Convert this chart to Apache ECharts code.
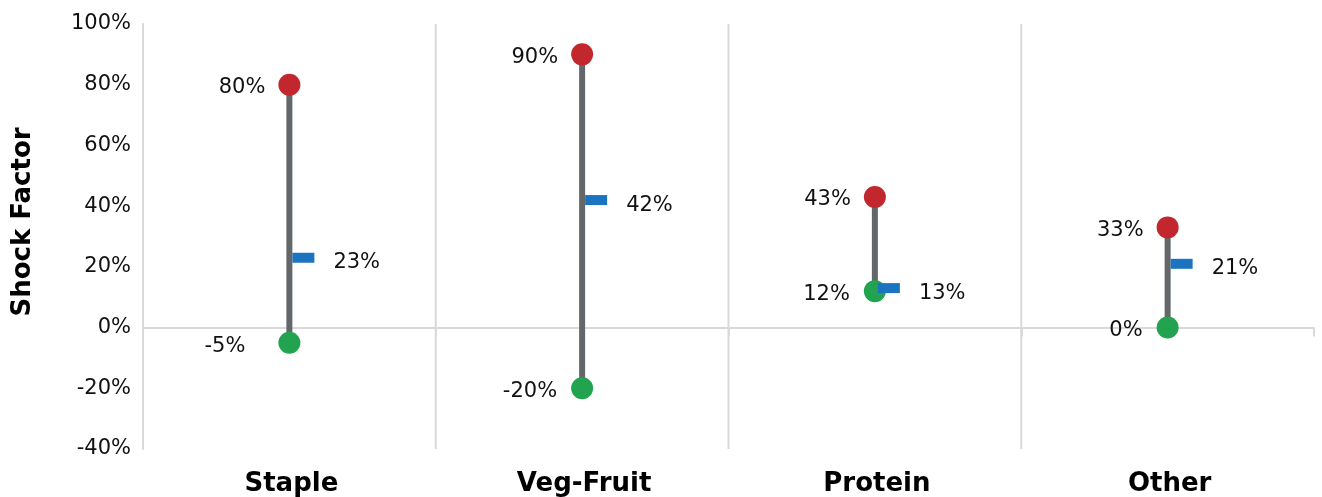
<!DOCTYPE html>
<html>
<head>
<meta charset="utf-8">
<script src="https://cdn.jsdelivr.net/npm/echarts@6/dist/echarts.min.js"></script>
<style>
html,body{margin:0;padding:0;background:#fff;}
#chart{width:1322px;height:497px;}
</style>
</head>
<body>
<div id="chart"></div>
<script>
var categories = ['Staple', 'Veg-Fruit', 'Protein', 'Other'];
var maxValues = [0.80, 0.90, 0.43, 0.33];
var minValues = [-0.05, -0.20, 0.12, 0.00];
var midValues = [0.23, 0.42, 0.13, 0.21];
var yTicks = [-0.4, -0.2, 0, 0.2, 0.4, 0.6, 0.8, 1.0];

var FONT = 'DejaVu Sans';
var TXT = '#111';
function pct(v) { return Math.round(v * 100) + '%'; }

var chart = echarts.init(document.getElementById('chart'), null, {renderer: 'canvas'});

var stemData = categories.map(function (c, i) { return [i, minValues[i], maxValues[i]]; });
var dividerData = categories.slice(0, categories.length - 1).map(function (c, i) { return [i]; });
var minData = minValues.map(function (v, i) {
  return i === 0 ? {value: v, label: {distance: 33, offset: [0, 4]}} : v;
});

var option = {
  animation: false,
  grid: {left: 143, right: 8, top: 24, bottom: 47, containLabel: false},
  xAxis: [{
    type: 'category',
    data: categories,
    boundaryGap: true,
    position: 'bottom',
    axisLine: {show: false, onZero: false},
    axisTick: {show: false},
    axisLabel: {show: true, fontFamily: FONT, fontSize: 26, fontWeight: 'bold', color: '#000', margin: 22, padding: [0, 0, 0, 4]},
    splitLine: {show: false}
  }, {
    type: 'category',
    data: categories,
    boundaryGap: true,
    position: 'bottom',
    axisLine: {show: true, onZero: true, lineStyle: {color: '#d9d9d9', width: 2}},
    axisTick: {show: true, length: 9, lineStyle: {color: '#d9d9d9', width: 2}},
    axisLabel: {show: false},
    splitLine: {show: false}
  }],
  yAxis: {
    type: 'value',
    min: yTicks[0],
    max: yTicks[yTicks.length - 1],
    interval: 0.2,
    axisLine: {show: true, lineStyle: {color: '#d9d9d9', width: 2}},
    axisTick: {show: false},
    splitLine: {show: false},
    axisLabel: {fontFamily: FONT, fontSize: 21, color: TXT, margin: 12, padding: [8, 0, 0, 0], formatter: function (v) { return pct(v); }}
  },
  graphic: [{
    type: 'text',
    x: 23,
    y: 222,
    rotation: Math.PI / 2,
    style: {text: 'Shock Factor', font: 'bold 26px "DejaVu Sans"', fill: '#000', textAlign: 'center', textVerticalAlign: 'middle'}
  }],
  series: [{
    type: 'custom',
    name: 'dividers',
    z: 1,
    silent: true,
    data: dividerData,
    renderItem: function (params, api) {
      var c0 = api.coord([api.value(0), yTicks[0]]);
      var c1 = api.coord([api.value(0), yTicks[yTicks.length - 1]]);
      var half = api.size([1, 0])[0] / 2;
      var x = c0[0] + half;
      return {type: 'line', shape: {x1: x, y1: c0[1], x2: x, y2: c1[1]}, style: {stroke: '#d9d9d9', lineWidth: 2}};
    }
  }, {
    type: 'custom',
    name: 'stems',
    z: 2,
    silent: true,
    data: stemData,
    renderItem: function (params, api) {
      var p0 = api.coord([api.value(0), api.value(1)]);
      var p1 = api.coord([api.value(0), api.value(2)]);
      return {type: 'line', shape: {x1: p0[0], y1: p0[1], x2: p1[0], y2: p1[1]}, style: {stroke: '#63676a', lineWidth: 6}};
    }
  }, {
    type: 'scatter',
    name: 'max',
    z: 3,
    data: maxValues,
    symbol: 'circle',
    symbolSize: 22,
    itemStyle: {color: '#c1272d', opacity: 1},
    label: {show: true, position: 'left', distance: 13, offset: [0, 3], fontFamily: FONT, fontSize: 21, color: TXT, formatter: function (p) { return pct(p.value); }}
  }, {
    type: 'scatter',
    name: 'min',
    z: 3,
    data: minData,
    symbol: 'circle',
    symbolSize: 22,
    itemStyle: {color: '#21a34f', opacity: 1},
    label: {show: true, position: 'left', distance: 14, offset: [0, 3], fontFamily: FONT, fontSize: 21, color: TXT, formatter: function (p) { return pct(p.value); }}
  }, {
    type: 'scatter',
    name: 'mid',
    z: 4,
    data: midValues,
    symbol: 'rect',
    symbolSize: [22, 10],
    symbolOffset: [14, 0],
    itemStyle: {color: '#1c73bf', opacity: 1},
    label: {show: true, position: 'right', distance: 19, offset: [0, 5], fontFamily: FONT, fontSize: 21, color: TXT, formatter: function (p) { return pct(p.value); }}
  }]
};
chart.setOption(option);
</script>
</body>
</html>
